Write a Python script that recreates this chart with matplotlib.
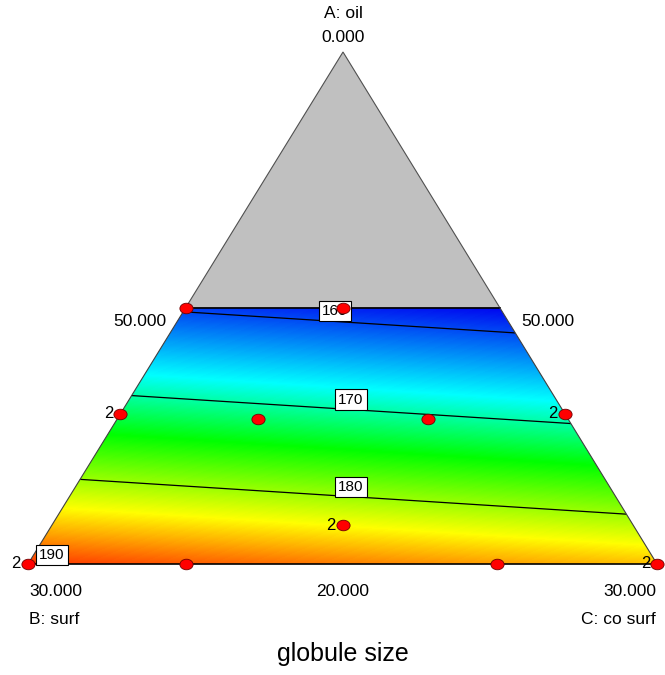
import numpy as np
import matplotlib.pyplot as plt
from matplotlib.colors import LinearSegmentedColormap, Normalize
from matplotlib.patches import Polygon
from matplotlib.path import Path
from matplotlib.transforms import Affine2D

plt.rcParams['font.family'] = ['Liberation Sans', 'DejaVu Sans']

# Linear mixture model for globule size (coefficients)
beta_A = 129.0   # oil
beta_B = 190.1   # surf
beta_C = 185.5   # co surf

# Design points as pseudo fractions (a = oil, c = co surf, b = rest)
pt_a = [0.50, 0.50, 0.293, 0.293, 0.283, 0.283, 0.076, 0.0, 0.0, 0.0, 0.0]
pt_c = [0.0, 0.25, 0.0, 0.707, 0.224, 0.494, 0.462, 0.0, 0.251, 0.746, 1.0]
pt_rep = [1, 1, 2, 2, 1, 1, 2, 2, 1, 1, 2]

levels = [160, 170, 180, 190]
label_x = [335, 351, 351, 52]

# triangle in figure pixels: apex (A), bottom-left (B), bottom-right (C)
A = (343, 52)
B = (28, 564)
C = (657, 564)
a_max = 0.5


def to_xy(a, c):
    a = np.asarray(a, float)
    c = np.asarray(c, float)
    b = 1 - a - c
    x = A[0] * a + B[0] * b + C[0] * c
    y = A[1] * a + B[1] * b + C[1] * c
    return x, y


def model(X, Y):
    a = (B[1] - Y) / (B[1] - A[1])
    xl = B[0] + (A[0] - B[0]) * a
    xr = C[0] + (A[0] - C[0]) * a
    c = (X - xl) / (xr - xl) * (1 - a)
    b = 1 - a - c
    return beta_A * a + beta_B * b + beta_C * c


fig = plt.figure(figsize=(6.65, 6.75), dpi=100)
ax = fig.add_axes([0, 0, 1, 1])
ax.set_xlim(0, 665)
ax.set_ylim(675, 0)
ax.axis('off')

# corners of the coloured region (oil from 0 to 0.5)
lx, ly = to_xy(a_max, 0)
rx, ry = to_xy(a_max, 1 - a_max)

gray = Polygon([A, (lx, ly), (rx, ry)], closed=True, facecolor='#c0c0c0',
               edgecolor='#505050', lw=0.8, zorder=1)
ax.add_patch(gray)

trap = Polygon([B, C, (rx, ry), (lx, ly)], closed=True, facecolor='none',
               edgecolor='none')
ax.add_patch(trap)

xs = np.arange(0, 666)
ys = np.arange(0, 676)
X, Y = np.meshgrid(xs, ys)
V = model(X, Y)

cmap = LinearSegmentedColormap.from_list(
    'de', [(0.0, '#0000f0'), (0.31, '#00ffff'), (0.52, '#00ff00'),
           (0.78, '#ffff00'), (1.0, '#ff2000')])
norm = Normalize(vmin=157, vmax=191)
im = ax.imshow(V, cmap=cmap, norm=norm, extent=(-0.5, 665.5, 675.5, -0.5),
               origin='upper', interpolation='bilinear', zorder=2)
im.set_clip_path(trap)

cs = ax.contour(X, Y, V, levels=levels, colors='black', linewidths=0.9,
                zorder=3)
cs.set_clip_path(trap)

# outline of coloured region
ax.plot([B[0], C[0]], [B[1], C[1]], color='black', lw=1.2, zorder=4)
ax.plot([lx, rx], [ly, ry], color='black', lw=1.2, zorder=4)
ax.plot([B[0], lx], [B[1], ly], color='#404040', lw=0.8, zorder=4)
ax.plot([C[0], rx], [C[1], ry], color='#404040', lw=0.8, zorder=4)

# contour labels sitting on the lines
col_y = ys.astype(float)
for lev, x0 in zip(levels, label_x):
    col = model(np.full_like(col_y, x0), col_y)
    y0 = np.interp(lev, col, col_y)
    ax.text(x0, y0 - 3, str(lev), ha='center', va='bottom', fontsize=11,
            bbox=dict(boxstyle='square,pad=0.2', fc='white', ec='black',
                      lw=0.8), zorder=5)

# design points
ell = Path.unit_circle().transformed(Affine2D().scale(1.25, 1.0))
px, py = to_xy(pt_a, pt_c)
ax.plot(px, py, ls='none', marker=ell, ms=9.5, mfc='#ff0000',
        mec='#700000', mew=0.6, zorder=6)
for x, y, r in zip(px, py, pt_rep):
    if r > 1:
        ax.text(x - 7, y, str(r), ha='right', va='center', fontsize=12,
                zorder=6)

# axis texts
fs = 12.5
ax.text(A[0], 14, 'A: oil', ha='center', va='center', fontsize=fs)
ax.text(A[0], 37, '0.000', ha='center', va='center', fontsize=fs)
ax.text(lx - 46, 321, '50.000', ha='center', va='center', fontsize=fs)
ax.text(rx + 48, 321, '50.000', ha='center', va='center', fontsize=fs)
ax.text(B[0] + 1, 591, '30.000', ha='left', va='center', fontsize=fs)
ax.text(B[0] + 1, 620, 'B: surf', ha='left', va='center', fontsize=fs)
ax.text(A[0], 591, '20.000', ha='center', va='center', fontsize=fs)
ax.text(C[0] - 1, 591, '30.000', ha='right', va='center', fontsize=fs)
ax.text(C[0] - 1, 620, 'C: co surf', ha='right', va='center', fontsize=fs)
ax.text(A[0], 654, 'globule size', ha='center', va='center', fontsize=18)

fig.savefig('out.png', dpi=100)
